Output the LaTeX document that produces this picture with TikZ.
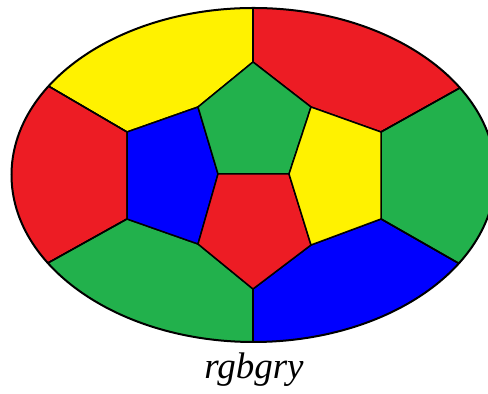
\documentclass[tikz,border=0pt]{standalone}
\usepackage{tikz}
\usepackage{fontspec}
\newfontfamily\labelfont{Liberation Serif}
\definecolor{mapred}{HTML}{ED1C24}
\definecolor{mapyellow}{HTML}{FFF200}
\definecolor{mapgreen}{HTML}{22B14C}
\definecolor{mapblue}{HTML}{0000FF}
\tikzset{
  face/.style={draw=black,line width=0.75pt,line join=round},
}

\begin{document}
\begin{tikzpicture}[x=0.5pt,y=-0.5pt]
    \useasboundingbox (0,0) rectangle (488,394);
    % inner vertices
    \coordinate (A) at (253,62);
    \coordinate (B) at (311,107);
    \coordinate (C) at (289,174);
    \coordinate (D) at (218,174);
    \coordinate (E) at (198,107);
    \coordinate (F) at (127,132);
    \coordinate (G) at (127,219);
    \coordinate (H) at (198,244);
    \coordinate (I) at (253,289);
    \coordinate (J) at (311,245);
    \coordinate (K) at (381,219);
    \coordinate (L) at (381,132);
    % points beyond the rim
    \coordinate (Ft) at (-27,42);
    \coordinate (Gt) at (-31,307);
    \coordinate (Lt) at (535,46);
    \coordinate (Kt) at (535,307);
    \coordinate (Tt) at (253,-60);
    \coordinate (Bt) at (253,440);
    \begin{scope}
      \clip (253.5,175) ellipse [x radius=242,y radius=167];
      \fill[face,fill=mapyellow] (Tt) -- (A) -- (E) -- (F) -- (Ft) -- (-60,-60) -- cycle;
      \fill[face,fill=mapred] (Tt) -- (A) -- (B) -- (L) -- (Lt) -- (560,-60) -- cycle;
      \fill[face,fill=mapred] (Ft) -- (F) -- (G) -- (Gt) -- cycle;
      \fill[face,fill=mapgreen] (Lt) -- (L) -- (K) -- (Kt) -- cycle;
      \fill[face,fill=mapgreen] (Gt) -- (G) -- (H) -- (I) -- (Bt) -- (-60,440) -- cycle;
      \fill[face,fill=mapblue] (Bt) -- (I) -- (J) -- (K) -- (Kt) -- (560,440) -- cycle;
      \filldraw[face,fill=mapblue] (F) -- (E) -- (D) -- (H) -- (G) -- cycle;
      \filldraw[face,fill=mapgreen] (A) -- (B) -- (C) -- (D) -- (E) -- cycle;
      \filldraw[face,fill=mapred] (D) -- (C) -- (J) -- (I) -- (H) -- cycle;
      \filldraw[face,fill=mapyellow] (B) -- (L) -- (K) -- (J) -- (C) -- cycle;
      \foreach \p/\q in {A/Tt,I/Bt,F/Ft,G/Gt,L/Lt,K/Kt}
        \draw[face] (\p) -- (\q);
    \end{scope}
    \draw[black,line width=1pt] (253.5,175) ellipse [x radius=242,y radius=167];
    \node[anchor=base,inner sep=0pt,font=\labelfont\fontsize{18.5}{22}\selectfont\itshape] (lbl) at (254,379) {rgbgry};
  \end{tikzpicture}
\end{document}
